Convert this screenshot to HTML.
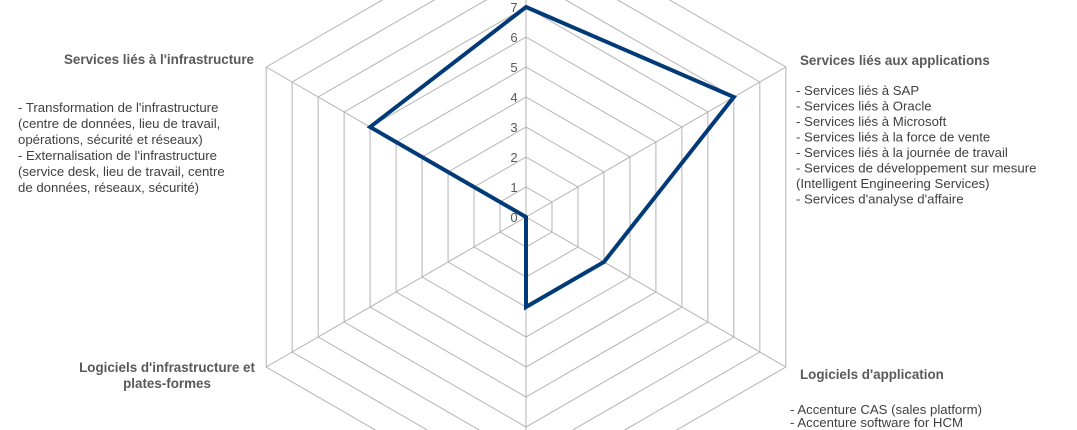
<!DOCTYPE html>
<html><head><meta charset="utf-8"><style>
html,body{margin:0;padding:0;background:#fff;overflow:hidden;width:1077px;height:430px}
svg{display:block;font-family:"Liberation Sans",Arial,sans-serif;overflow:hidden}
.t{fill:#404040;font-size:13.2px}
.k{fill:#595959;font-size:13px}
.b{fill:#595959;font-size:13.4px;font-weight:bold}
</style></head><body>
<svg id="chart" width="1077" height="430" viewBox="0 0 1077 430">
<g id="grid"></g>
<g id="ticks"></g>
<polygon id="series" fill="none" stroke="#003a78" stroke-width="4" stroke-linejoin="miter"></polygon>
<g>
<text class="b" x="254" y="64" text-anchor="end">Services liés à l'infrastructure</text>
<text class="t" x="18" y="112">- Transformation  de l'infrastructure</text>
<text class="t" x="18" y="128">(centre de données, lieu de travail,</text>
<text class="t" x="18" y="144">opérations,  sécurité et réseaux)</text>
<text class="t" x="18" y="160">- Externalisation de l'infrastructure</text>
<text class="t" x="18" y="176">(service  desk, lieu de travail,  centre</text>
<text class="t" x="18" y="192">de données, réseaux, sécurité)</text>
</g>
<g>
<text class="b" x="800" y="65">Services liés aux applications</text>
<text class="t" x="796" y="95">- Services  liés à SAP</text>
<text class="t" x="796" y="110.5">- Services  liés à Oracle</text>
<text class="t" x="796" y="126">- Services  liés à Microsoft</text>
<text class="t" x="796" y="141.5">- Services  liés à la force de vente</text>
<text class="t" x="796" y="157">- Services  liés à la journée de travail</text>
<text class="t" x="796" y="172.5">- Services  de développement  sur mesure</text>
<text class="t" x="796" y="188">(Intelligent  Engineering  Services)</text>
<text class="t" x="796" y="203.5">- Services  d'analyse d'affaire</text>
</g>
<g>
<text class="b" x="800" y="379">Logiciels d'application</text>
<text class="t" x="790" y="414">- Accenture CAS (sales platform)</text>
<text class="t" x="790" y="427">- Accenture software for HCM</text>
</g>
<g>
<text class="b" x="167" y="372" text-anchor="middle">Logiciels d'infrastructure et</text>
<text class="b" x="167" y="388" text-anchor="middle">plates-formes</text>
</g>
</svg>
<script>
const categories = ["Services liés aux applications (top)","Services liés aux applications","Logiciels d'application","Bas","Logiciels d'infrastructure et plates-formes","Services liés à l'infrastructure"];
const values = [7, 8, 3, 3, 0, 6];
const tickLabels = ["0","1","2","3","4","5","6","7","8","9","10"];
const maxValue = 10;
const cx = 526, cy = 217, R = 300;
const NS = "http://www.w3.org/2000/svg";
function pt(i, v){ const a = -Math.PI/2 + i*2*Math.PI/categories.length; const r = v/maxValue*R; return [cx + r*Math.cos(a), cy + r*Math.sin(a)]; }
const grid = document.getElementById('grid');
for (let k=1;k<=maxValue;k++){
  const p = document.createElementNS(NS,'polygon');
  p.setAttribute('points', categories.map((c,i)=>pt(i,k).join(',')).join(' '));
  p.setAttribute('fill','none'); p.setAttribute('stroke','#b3b3b3'); p.setAttribute('stroke-width','1');
  
  
  grid.appendChild(p);
}
categories.forEach((c,i)=>{
  const e = pt(i,maxValue);
  const l = document.createElementNS(NS,'line');
  l.setAttribute('x1',cx); l.setAttribute('y1',cy); l.setAttribute('x2',e[0]); l.setAttribute('y2',e[1]);
  l.setAttribute('stroke','#b3b3b3'); l.setAttribute('stroke-width','1');
  
  
  grid.appendChild(l);
});
const ticks = document.getElementById('ticks');
tickLabels.forEach((t,k)=>{
  const p = pt(0,k);
  const tx = document.createElementNS(NS,'text');
  tx.setAttribute('x', p[0]-12); tx.setAttribute('y', p[1]+5);
  tx.setAttribute('text-anchor','middle'); tx.setAttribute('class','k');
  tx.textContent = t;
  
  
  ticks.appendChild(tx);
});
document.getElementById('series').setAttribute('points', values.map((v,i)=>pt(i,v).join(',')).join(' '));
</script>
</body></html>
